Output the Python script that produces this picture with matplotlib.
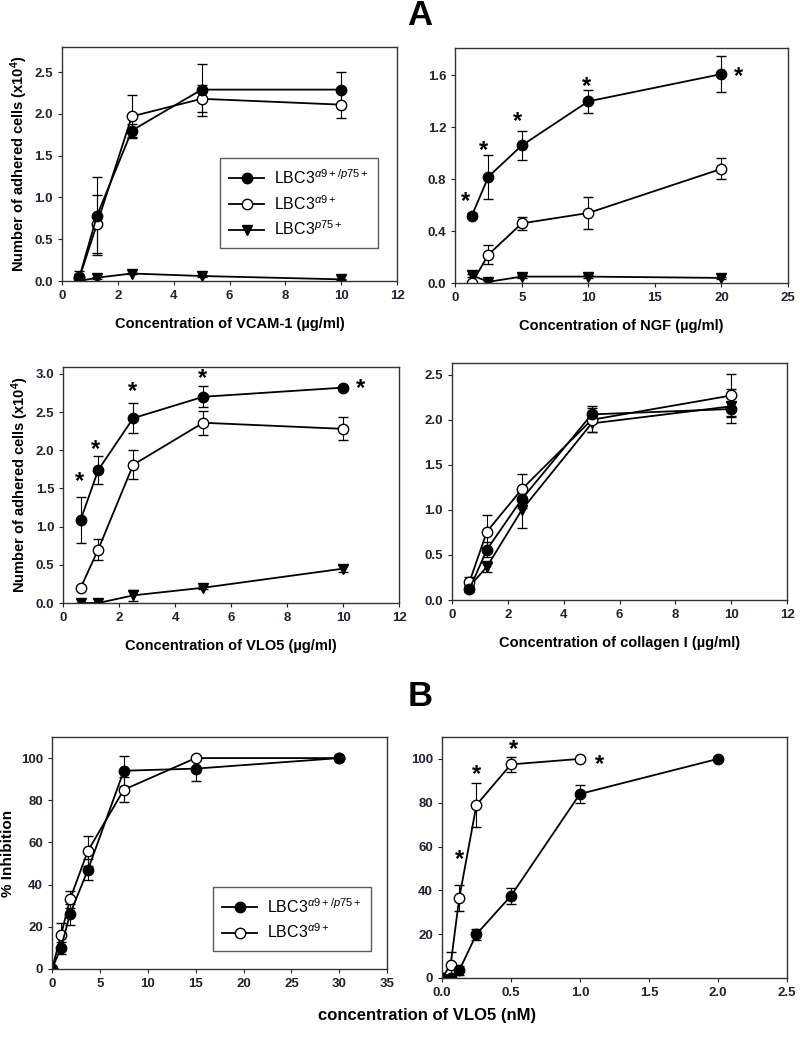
import matplotlib
matplotlib.use("Agg")
import matplotlib.pyplot as plt
from matplotlib.lines import Line2D

plt.rcParams['font.family'] = ['Liberation Sans', 'DejaVu Sans']
plt.rcParams['mathtext.fontset'] = 'custom'
plt.rcParams['mathtext.rm'] = 'Liberation Sans'
plt.rcParams['mathtext.it'] = 'Liberation Sans:italic'
plt.rcParams['mathtext.bf'] = 'Liberation Sans:bold'

# ---- datos ----
conc_ug = [0.625, 1.25, 2.5, 5, 10]
conc_ngf = [1.25, 2.5, 5, 10, 20]

vcam_dbl = [0.05, 0.78, 1.80, 2.29, 2.29]
vcam_dbl_err = [0.07, 0.47, 0.08, 0.31, 0.21]
vcam_a9 = [0.04, 0.68, 1.97, 2.18, 2.11]
vcam_a9_err = [0.05, 0.35, 0.26, 0.16, 0.16]
vcam_p75 = [0.00, 0.04, 0.09, 0.06, 0.02]
vcam_p75_err = [0.01, 0.01, 0.01, 0.01, 0.01]

ngf_dbl = [0.52, 0.82, 1.06, 1.40, 1.61]
ngf_dbl_err = [0.02, 0.17, 0.11, 0.09, 0.14]
ngf_a9 = [0.00, 0.22, 0.46, 0.54, 0.88]
ngf_a9_err = [0.01, 0.07, 0.05, 0.12, 0.08]
ngf_p75 = [0.06, 0.01, 0.05, 0.05, 0.04]
ngf_p75_err = [0.01, 0.01, 0.01, 0.01, 0.01]

vlo_dbl = [1.09, 1.74, 2.42, 2.70, 2.82]
vlo_dbl_err = [0.30, 0.18, 0.20, 0.14, 0.02]
vlo_a9 = [0.20, 0.70, 1.81, 2.36, 2.28]
vlo_a9_err = [0.02, 0.14, 0.19, 0.16, 0.15]
vlo_p75 = [0.00, 0.00, 0.10, 0.20, 0.45]
vlo_p75_err = [0.00, 0.00, 0.07, 0.02, 0.05]

col_dbl = [0.12, 0.56, 1.12, 2.06, 2.12]
col_dbl_err = [0.03, 0.08, 0.10, 0.09, 0.08]
col_a9 = [0.20, 0.76, 1.23, 2.00, 2.27]
col_a9_err = [0.05, 0.18, 0.17, 0.13, 0.24]
col_p75 = [0.15, 0.37, 1.00, 1.96, 2.15]
col_p75_err = [0.04, 0.06, 0.20, 0.09, 0.19]

inh_x = [0, 0.94, 1.875, 3.75, 7.5, 15, 30]
inh_dbl = [0, 10, 26, 47, 94, 95, 100]
inh_dbl_err = [0, 3, 5, 5, 7, 6, 0]
inh_a9 = [0, 16, 33, 56, 85, 100, 100]
inh_a9_err = [0, 6, 4, 7, 6, 0, 0]

nm_x_dbl = [0, 0.0625, 0.125, 0.25, 0.5, 1.0, 2.0]
nm_dbl = [0, 0, 3.5, 20, 37.5, 84, 100]
nm_dbl_err = [0, 0, 2, 2.5, 3.5, 4, 0]
nm_x_a9 = [0, 0.0625, 0.125, 0.25, 0.5, 1.0]
nm_a9 = [0, 6, 36.5, 79, 97.5, 100]
nm_a9_err = [0, 6, 6, 10, 3.5, 0]

# asteriscos (x, y)
stars_ngf = [(0.8, 0.66), (2.1, 1.05), (4.7, 1.28), (9.9, 1.55), (21.3, 1.62)]
stars_vlo = [(0.57, 1.64), (1.17, 2.06), (2.48, 2.83), (4.97, 3.0), (10.6, 2.86)]
stars_nm = [(0.125, 56), (0.25, 95), (0.52, 106), (1.14, 99.5)]

lab_dbl = r'LBC3$^{\mathit{\alpha9+/p75+}}$'
lab_a9 = r'LBC3$^{\mathit{\alpha9+}}$'
lab_p75 = r'LBC3$^{\mathit{p75+}}$'
ylab_cells = r'Number of adhered cells (x10$^{\mathbf{4}}$)'

fig = plt.figure(figsize=(8, 10.37), dpi=100)

def serie(ax, x, y, e, marker, fill):
    ax.errorbar(x, y, yerr=e, color='black', lw=1.3, elinewidth=0.8, capsize=3.5,
                capthick=0.8, marker=marker, ms=7.5, mfc=fill, mec='black', mew=1.0)

def estilo(ax, xlim, ylim, xticks, yticks, yfmt):
    ax.set_xlim(xlim)
    ax.set_ylim(ylim)
    ax.set_xticks(xticks)
    ax.set_yticks(yticks)
    ax.set_yticklabels([yfmt.format(v) for v in yticks])
    ax.tick_params(direction='out', length=3, width=0.8, labelsize=9.5, colors='#222233')
    for lbl in ax.get_xticklabels() + ax.get_yticklabels():
        lbl.set_fontweight('bold')
    for s in ax.spines.values():
        s.set_color('#333333')
        s.set_linewidth(1.0)

def estrellas(ax, pts):
    for x, y in pts:
        ax.annotate('*', (x, y), xytext=(0, -3), textcoords='offset points',
                    fontsize=17, fontweight='bold', ha='center', va='center')

def leyenda(ax, items, anchor):
    handles = [Line2D([], [], color='black', lw=1.3, marker=m, ms=7.5, mfc=f,
                      mec='black', mew=1.0) for m, f, _ in items]
    labels = [t for _, _, t in items]
    leg = ax.legend(handles, labels, loc='lower right', bbox_to_anchor=anchor,
                    fontsize=11.5, frameon=True, fancybox=False, handlelength=2.2,
                    borderpad=0.6, labelspacing=0.45, handletextpad=0.6)
    leg.get_frame().set_edgecolor('#333333')
    leg.get_frame().set_linewidth(1.0)

# panel VCAM-1
ax1 = fig.add_axes([0.0775, 0.729, 0.419, 0.2257])
serie(ax1, conc_ug, vcam_p75, vcam_p75_err, 'v', 'black')
serie(ax1, conc_ug, vcam_a9, vcam_a9_err, 'o', 'white')
serie(ax1, conc_ug, vcam_dbl, vcam_dbl_err, 'o', 'black')
estilo(ax1, (0, 12), (0, 2.8), range(0, 13, 2), [0, 0.5, 1.0, 1.5, 2.0, 2.5], '{:.1f}')
ax1.set_xlabel('Concentration of VCAM-1 (µg/ml)', fontsize=10.5, fontweight='bold', labelpad=11)
ax1.set_ylabel(ylab_cells, fontsize=10.5, fontweight='bold', labelpad=3)
leyenda(ax1, [('o', 'black', lab_dbl), ('o', 'white', lab_a9), ('v', 'black', lab_p75)],
        (0.967, 0.107))

# panel NGF
ax2 = fig.add_axes([0.569, 0.727, 0.416, 0.2266])
serie(ax2, conc_ngf, ngf_p75, ngf_p75_err, 'v', 'black')
serie(ax2, conc_ngf, ngf_a9, ngf_a9_err, 'o', 'white')
serie(ax2, conc_ngf, ngf_dbl, ngf_dbl_err, 'o', 'black')
estilo(ax2, (0, 25), (0, 1.81), range(0, 26, 5), [0, 0.4, 0.8, 1.2, 1.6], '{:.1f}')
estrellas(ax2, stars_ngf)
ax2.set_xlabel('Concentration of NGF (µg/ml)', fontsize=10.5, fontweight='bold', labelpad=11)

# panel VLO5 ug/ml
ax3 = fig.add_axes([0.079, 0.4185, 0.42, 0.2276])
serie(ax3, conc_ug, vlo_p75, vlo_p75_err, 'v', 'black')
serie(ax3, conc_ug, vlo_a9, vlo_a9_err, 'o', 'white')
serie(ax3, conc_ug, vlo_dbl, vlo_dbl_err, 'o', 'black')
estilo(ax3, (0, 12), (0, 3.09), range(0, 13, 2), [0, 0.5, 1.0, 1.5, 2.0, 2.5, 3.0], '{:.1f}')
estrellas(ax3, stars_vlo)
ax3.set_xlabel('Concentration of VLO5 (µg/ml)', fontsize=10.5, fontweight='bold', labelpad=11)
ax3.set_ylabel(ylab_cells, fontsize=10.5, fontweight='bold', labelpad=3)

# panel colageno I
ax4 = fig.add_axes([0.565, 0.4214, 0.419, 0.2285])
serie(ax4, conc_ug, col_p75, col_p75_err, 'v', 'black')
serie(ax4, conc_ug, col_a9, col_a9_err, 'o', 'white')
serie(ax4, conc_ug, col_dbl, col_dbl_err, 'o', 'black')
estilo(ax4, (0, 12), (0, 2.63), range(0, 13, 2), [0, 0.5, 1.0, 1.5, 2.0, 2.5], '{:.1f}')
ax4.set_xlabel('Concentration of collagen I (µg/ml)', fontsize=10.5, fontweight='bold', labelpad=11)

# panel B izquierda
ax5 = fig.add_axes([0.065, 0.0656, 0.419, 0.2237])
serie(ax5, inh_x, inh_a9, inh_a9_err, 'o', 'white')
serie(ax5, inh_x, inh_dbl, inh_dbl_err, 'o', 'black')
estilo(ax5, (0, 35), (0, 110), range(0, 36, 5), [0, 20, 40, 60, 80, 100], '{:d}')
ax5.set_ylabel('% Inhibition', fontsize=11, fontweight='bold')
ax5.yaxis.set_label_coords(-0.11, 0.5)
leyenda(ax5, [('o', 'black', lab_dbl), ('o', 'white', lab_a9)], (0.976, 0.043))

# panel B derecha
ax6 = fig.add_axes([0.5525, 0.0569, 0.431, 0.2324])
serie(ax6, nm_x_a9, nm_a9, nm_a9_err, 'o', 'white')
serie(ax6, nm_x_dbl, nm_dbl, nm_dbl_err, 'o', 'black')
estilo(ax6, (0, 2.5), (0, 110), [0, 0.5, 1.0, 1.5, 2.0, 2.5], [0, 20, 40, 60, 80, 100], '{:d}')
ax6.set_xticklabels(['0.0', '0.5', '1.0', '1.5', '2.0', '2.5'])
estrellas(ax6, stars_nm)

fig.text(0.534, 0.021, 'concentration of VLO5 (nM)', fontsize=12, fontweight='bold',
         ha='center', va='center')
fig.text(0.525, 0.985, 'A', fontsize=25, fontweight='bold', ha='center', va='center')
fig.text(0.525, 0.328, 'B', fontsize=25, fontweight='bold', ha='center', va='center')

fig.savefig('out.png', dpi=100)
